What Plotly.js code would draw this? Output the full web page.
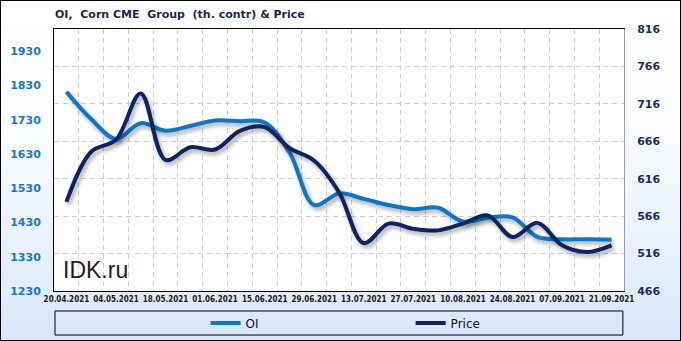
<!DOCTYPE html>
<html><head><meta charset="utf-8">
<script src="https://cdn.plot.ly/plotly-3.0.1.min.js"></script>
<style>
html,body{margin:0;padding:0;}
body{width:681px;height:341px;overflow:hidden;background:linear-gradient(to bottom,#ffffff 0%,#fbfdff 35%,#d9e7f9 100%);position:relative;}
#chart{position:absolute;left:0;top:0;width:681px;height:341px;}
#frame{position:absolute;left:0;top:0;width:681px;height:341px;box-sizing:border-box;border:1px solid #000;pointer-events:none;}
</style></head><body>
<div id="chart"></div><div id="frame"></div>
<script>
const weeks = ['2021-04-20','2021-04-27','2021-05-04','2021-05-11','2021-05-18','2021-05-25','2021-06-01','2021-06-08','2021-06-15','2021-06-22','2021-06-29','2021-07-06','2021-07-13','2021-07-20','2021-07-27','2021-08-03','2021-08-10','2021-08-17','2021-08-24','2021-08-31','2021-09-07','2021-09-14','2021-09-21'];
const oi = [1812,1732,1674,1720,1698,1712,1728,1726,1722,1635,1481,1515,1499,1481,1469,1473,1433,1444,1445,1388,1381,1381,1380];
const price = [585,652,668,730,641,658,655,680,685,657,640,598,530,556,549,547,556,567,538,557,527,518,527];
const labelDates = weeks.filter((d,i)=>i%2===0);
const leftTicks = [1230,1330,1430,1530,1630,1730,1830,1930];
const rightTicks = [466,516,566,616,666,716,766,816];

const gridDash = '5px,4px';
const gridColor = '#cfcfcf';
const data = [
  {x: weeks, y: oi, name: 'OI', type: 'scatter', mode: 'lines', yaxis: 'y',
   line: {color: '#0a78c6', width: 4, shape: 'spline', smoothing: 1}},
  {x: weeks, y: price, name: 'Price', type: 'scatter', mode: 'lines', yaxis: 'y2',
   line: {color: '#0c2462', width: 4, shape: 'spline', smoothing: 1}}
];
const layout = {
  width: 681, height: 341,
  margin: {l: 54, r: 57, t: 29, b: 50, autoexpand: false},
  paper_bgcolor: 'rgba(0,0,0,0)',
  plot_bgcolor: '#ffffff',
  title: {text: 'OI,  Corn CME  Group  (th. contr) & Price', xref: 'container', x: 55/681, xanchor: 'left',
          yref: 'container', y: 1 - 14/341, yanchor: 'middle', automargin: false,
          font: {family: 'DejaVu Sans', size: 11, weight: 'bold', color: '#1c2755'}},
  xaxis: {type: 'date', range: ['2021-04-16 12:00', '2021-09-24 12:00'], automargin: false,
          tickvals: labelDates, tickformat: '%d.%m.%Y', showgrid: false,
          showline: true, linecolor: '#000', linewidth: 1, mirror: true, ticks: '',
          tickfont: {family: 'DejaVu Sans Condensed, DejaVu Sans', size: 8, weight: 'bold', color: '#1a1a1a'},
          minor: {dtick: 7*86400000, tick0: '2021-04-16 12:00', showgrid: true, gridcolor: gridColor, griddash: gridDash, gridwidth: 1, ticks: ''},
          zeroline: false, fixedrange: true},
  yaxis: {range: [1230, 1995], tickvals: leftTicks, showgrid: false, zeroline: false, automargin: false,
          showline: true, linecolor: '#000', linewidth: 1, ticks: '', ticklabelstandoff: 10,
          tickfont: {family: 'DejaVu Sans', size: 11, weight: 'bold', color: '#1a78c6'}},
  yaxis2: {range: [466, 816], tickvals: rightTicks, overlaying: 'y', side: 'right', automargin: false,
           showgrid: true, gridcolor: gridColor, griddash: gridDash, gridwidth: 1, zeroline: false,
           showline: true, linecolor: '#999', linewidth: 1, ticks: '', ticklabelstandoff: 10,
           tickfont: {family: 'DejaVu Sans', size: 11, weight: 'bold', color: '#1c2c5e'}},
  showlegend: true,
  legend: {orientation: 'h', x: 0.266, xanchor: 'left', y: -0.122, yanchor: 'middle',
           bgcolor: 'rgba(0,0,0,0)', borderwidth: 0, entrywidth: 160, itemwidth: 30,
           font: {family: 'DejaVu Sans', size: 12, color: '#111'}},
  shapes: [{type: 'rect', xref: 'paper', yref: 'paper', x0: 0.00175, x1: 0.998, y0: -0.168, y1: -0.0763,
            line: {color: '#000', width: 1}, fillcolor: 'rgba(0,0,0,0)'}],
  annotations: [{text: 'IDK.ru', xref: 'paper', yref: 'paper', x: 0.012, xanchor: 'left', y: 0.08, yanchor: 'middle',
                 showarrow: false, font: {family: 'Liberation Sans, Arial', size: 23, color: '#222'}}]
};
Plotly.newPlot('chart', data, layout, {displayModeBar: false, staticPlot: true}).then(()=>{
  document.querySelectorAll('.scatterlayer .trace path.js-line').forEach(p=>{
    p.style.filter = 'drop-shadow(2px 3px 2px rgba(0,0,0,0.35))';
  });
});
</script>
</body></html>
